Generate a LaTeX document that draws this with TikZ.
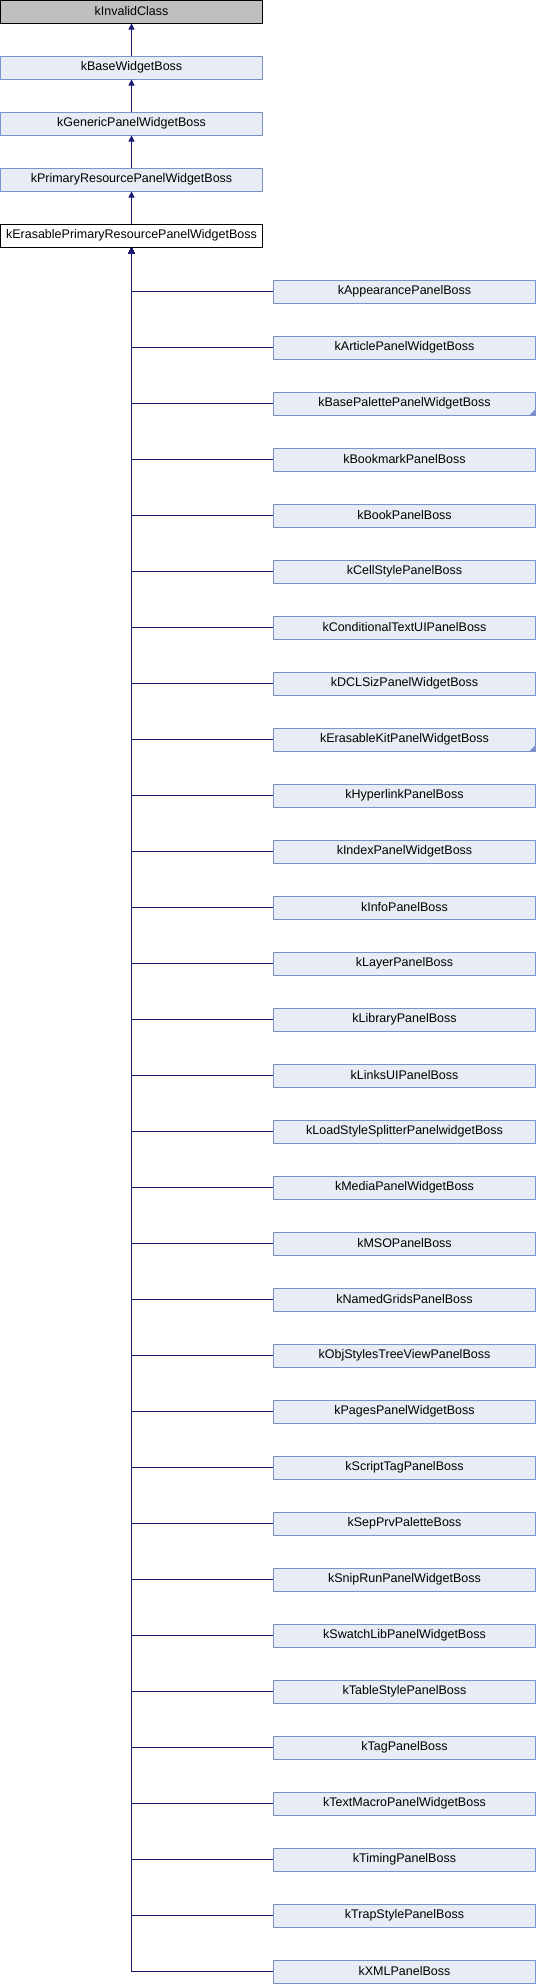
\documentclass[tikz,border=0pt]{standalone}
\usepackage{fontspec}
\setmainfont{Liberation Sans}
\usetikzlibrary{arrows.meta}
\definecolor{boxfill}{RGB}{232,236,244}
\definecolor{boxline}{RGB}{124,146,204}
\definecolor{edgecol}{RGB}{25,25,112}
\definecolor{grayfill}{RGB}{191,191,191}
\definecolor{markcol}{RGB}{124,146,204}
\tikzset{
  cls/.style={rectangle, draw=boxline, fill=boxfill, line width=1pt, minimum width=262pt, minimum height=23pt, inner sep=0pt, font=\fontsize{12.5}{14}\selectfont},
  rootcls/.style={cls, draw=black, fill=grayfill},
  curcls/.style={cls, draw=black, fill=white},
  edge/.style={draw=edgecol, line width=1pt, -{Triangle[length=6pt,width=6pt]}},
}
\newcommand{\markcorner}[1]{\fill[markcol] ([shift={(-0.5,-0.5)}]#1.south east) -- ++(-6,0) -- ++(6,-6) -- cycle;}
\begin{document}
\begin{tikzpicture}[x=1pt,y=-1pt]
\useasboundingbox (0,0) rectangle (536,1984);
\node[rootcls] (p0) at (131.5,11.5) {kInvalidClass};
\node[cls] (p1) at (131.5,67.5) {kBaseWidgetBoss};
\node[cls] (p2) at (131.5,123.5) {kGenericPanelWidgetBoss};
\node[cls] (p3) at (131.5,179.5) {kPrimaryResourcePanelWidgetBoss};
\node[curcls] (e) at (131.5,235.5) {kErasablePrimaryResourcePanelWidgetBoss};
\draw[edge] (p1.north) -- (p0.south);
\draw[edge] (p2.north) -- (p1.south);
\draw[edge] (p3.north) -- (p2.south);
\draw[edge] (e.north) -- (p3.south);
\foreach \name [count=\i from 0] in {kAppearancePanelBoss, kArticlePanelWidgetBoss, kBasePalettePanelWidgetBoss, kBookmarkPanelBoss, kBookPanelBoss, kCellStylePanelBoss, kConditionalTextUIPanelBoss, kDCLSizPanelWidgetBoss, kErasableKitPanelWidgetBoss, kHyperlinkPanelBoss, kIndexPanelWidgetBoss, kInfoPanelBoss, kLayerPanelBoss, kLibraryPanelBoss, kLinksUIPanelBoss, kLoadStyleSplitterPanelwidgetBoss, kMediaPanelWidgetBoss, kMSOPanelBoss, kNamedGridsPanelBoss, kObjStylesTreeViewPanelBoss, kPagesPanelWidgetBoss, kScriptTagPanelBoss, kSepPrvPaletteBoss, kSnipRunPanelWidgetBoss, kSwatchLibPanelWidgetBoss, kTableStylePanelBoss, kTagPanelBoss, kTextMacroPanelWidgetBoss, kTimingPanelBoss, kTrapStylePanelBoss, kXMLPanelBoss} {
  \node[cls] (c\i) at (404.5,{291.5+56*\i}) {\name};
  \draw[edge] (c\i.west) -| (e.south);
}
\markcorner{c2}
\markcorner{c8}
\end{tikzpicture}
\end{document}
